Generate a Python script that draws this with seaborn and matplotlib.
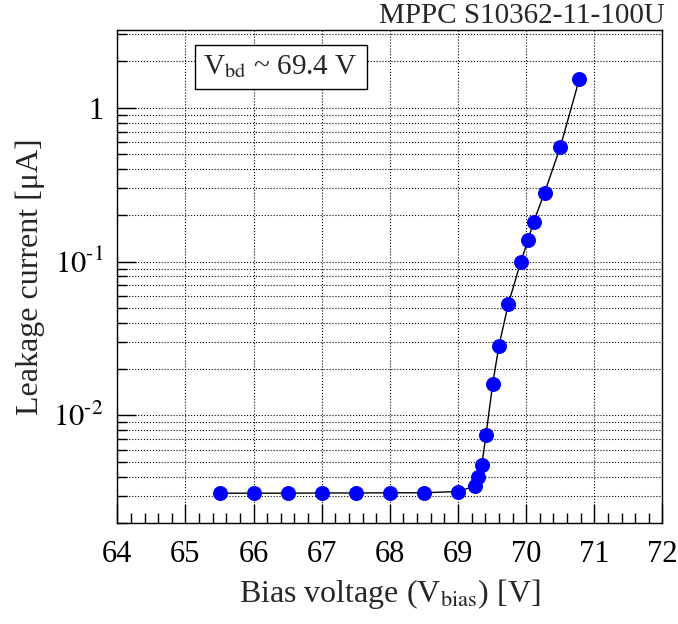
import numpy as np
import pandas as pd
import matplotlib
matplotlib.use("Agg")
import matplotlib.pyplot as plt
import matplotlib.ticker as mticker
import seaborn as sns

# leakage current vs bias voltage
bias_voltage = [65.5, 66.0, 66.5, 67.0, 67.5, 68.0, 68.5, 69.0, 69.25, 69.30,
                69.35, 69.41, 69.51, 69.60, 69.74, 69.92, 70.03, 70.11, 70.27,
                70.50, 70.78]
leakage_current = [0.00312, 0.00312, 0.00312, 0.00313, 0.00313, 0.00314, 0.00314,
                   0.0032, 0.00347, 0.00398, 0.00476, 0.0074, 0.0161, 0.0282,
                   0.0533, 0.099, 0.139, 0.181, 0.28, 0.552, 1.53]
title_text = "MPPC S10362-11-100U"
box_text = r"V$_{\rm bd}$ ~ 69.4 V"

sns.set_style("ticks")
plt.rcParams["font.family"] = ["Liberation Serif", "DejaVu Serif"]
plt.rcParams["mathtext.fontset"] = "stix"

df = pd.DataFrame({"V": bias_voltage, "I": leakage_current})

fig = plt.figure(figsize=(6.78, 6.24), dpi=100)
ax = fig.add_axes([0.173, 0.162, 0.804, 0.790])

sns.lineplot(data=df, x="V", y="I", ax=ax, sort=False, color="black",
             linewidth=1.0, marker="o", markersize=10,
             markerfacecolor="blue", markeredgecolor="blue", zorder=3)

ax.set_yscale("log")
ax.set_xlim(64, 72)
ax.set_ylim(0.002, 3.2)

ax.xaxis.set_major_locator(mticker.MultipleLocator(1))
ax.xaxis.set_minor_locator(mticker.MultipleLocator(0.2))
ax.yaxis.set_major_locator(mticker.LogLocator(base=10))
ax.yaxis.set_minor_locator(mticker.LogLocator(base=10, subs=np.arange(2, 10)))
ax.yaxis.set_minor_formatter(mticker.NullFormatter())

def yfmt(v, pos):
    e = int(round(np.log10(v)))
    if e == 0:
        return "1"
    return r"$10^{\text{-}%d}$" % abs(e)
ax.yaxis.set_major_formatter(mticker.FuncFormatter(yfmt))

ax.grid(True, which="major", axis="both", linestyle=":", color="black", linewidth=0.8)
ax.grid(True, which="minor", axis="y", linestyle=":", color="black", linewidth=0.8)

ax.tick_params(which="both", direction="in", labelsize=22, colors="black")
ax.tick_params(which="major", length=14, width=1)
ax.tick_params(which="minor", length=7, width=1)
ax.tick_params(axis="x", pad=12)
ax.tick_params(axis="y", pad=10)
for s in ax.spines.values():
    s.set_color("black")
    s.set_linewidth(1)

ax.set_xlabel(r"Bias voltage (V$_{\rm bias}$) [V]", fontsize=23, labelpad=6)
ax.set_ylabel("Leakage current [μA]", fontsize=23, labelpad=6)

fig.text(0.981, 0.963, title_text, ha="right", va="baseline", fontsize=21)
ax.text(0.158, 0.952, box_text, transform=ax.transAxes, ha="left", va="top",
        fontsize=21, bbox=dict(boxstyle="square,pad=0.3", facecolor="white",
                               edgecolor="black", linewidth=1), zorder=5)

fig.savefig("out.png", dpi=100)
